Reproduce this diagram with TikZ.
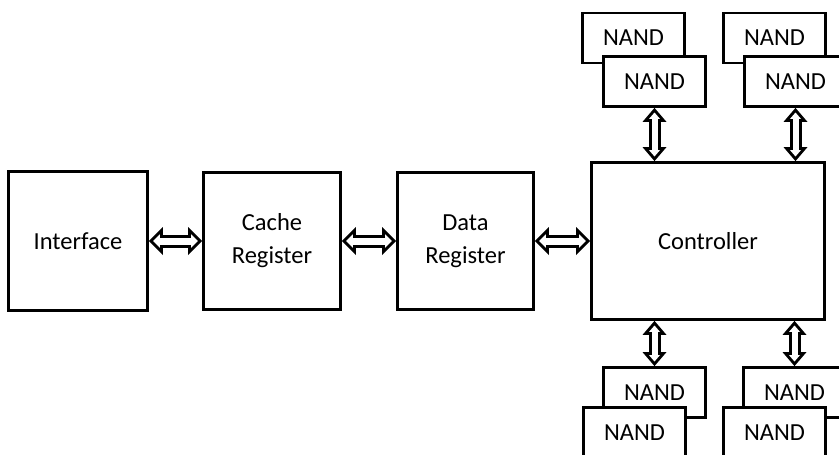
\documentclass[tikz,border=0pt]{standalone}
\usepackage{fontspec}
\setmainfont{Carlito}
\usetikzlibrary{arrows.meta}

\tikzset{
  block/.style 2 args={draw, line width=2.8pt, fill=white, inner sep=0pt,
    align=center, minimum width=#1, minimum height=#2},
  nand/.style={block={102pt}{50pt}},
  bus/.style n args={4}{line width=#3, shorten <=#4, shorten >=#4,
    {Triangle[length=#1, width=#2, line width=0pt]}-{Triangle[length=#1, width=#2, line width=0pt]}}
}

\begin{document}
\begin{tikzpicture}[x=1pt, y=-1pt, font=\fontsize{24.5}{33}\selectfont]
	\clip (0,0) rectangle (839,455);
	% main chain
	\node at (78,241) (iface) [block={139pt}{139pt}] {Interface};
	\node at (272,241) (cache) [block={137pt}{137pt}] {Cache\\Register};
	\node at (465.5,241) (data) [block={136pt}{137pt}] {Data\\Register};
	\node at (708,241) (ctrl) [block={233pt}{157pt}] {Controller};
	% flash chips above
	\node at (633.5,38) (nAback) [nand] {NAND};
	\node at (654.5,81.5) (nA) [nand] {NAND};
	\node at (774.5,38) (nBback) [nand] {NAND};
	\node at (795.5,81.5) (nB) [nand] {NAND};
	% flash chips below
	\node at (654.5,392.5) (nC) [nand] {NAND};
	\node at (634.5,432.5) (nCfront) [nand] {NAND};
	\node at (794.5,392.5) (nD) [nand] {NAND};
	\node at (774.5,432.5) (nDfront) [nand] {NAND};
	\coordinate (ctA) at (nA.south |- ctrl.north);
	\coordinate (ctB) at (nB.south |- ctrl.north);
	\coordinate (cbC) at (nC.north |- ctrl.south);
	\coordinate (cbD) at (nD.north |- ctrl.south);
	% buses
	\foreach \a/\b in {iface/cache, cache/data, data/ctrl} {
		\draw[bus={14pt}{28pt}{13pt}{0pt}] (\a) -- (\b);
		\draw[bus={6.8pt}{13.5pt}{7pt}{4.2pt}, white] (\a) -- (\b);
	}
	\foreach \a/\b in {nA.south/ctA, nB.south/ctB, cbC/nC.north, cbD/nD.north} {
		\draw[bus={14pt}{24pt}{12pt}{0pt}] (\a) -- (\b);
		\draw[bus={6.4pt}{11pt}{6pt}{4.6pt}, white] (\a) -- (\b);
	}
\end{tikzpicture}
\end{document}
